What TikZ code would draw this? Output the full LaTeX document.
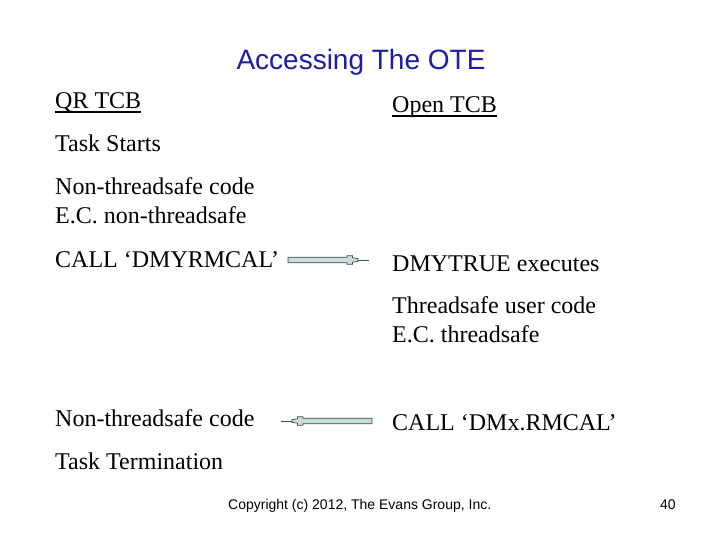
\documentclass[tikz,border=0pt]{standalone}
\usepackage{fontspec}
\setmainfont{Liberation Serif}
\newfontfamily\arialf{Liberation Sans}
\definecolor{titleblue}{HTML}{1C1CA8}
\definecolor{arrowfill}{HTML}{C8DCDC}
\definecolor{arrowline}{HTML}{4A4A4A}
\tikzset{
  body/.style={anchor=base west, inner sep=0pt, font=\fontsize{24}{29}\selectfont},
  ulinestyle/.style={line width=1.6pt},
  pics/fatarrow/.style={code={
    \filldraw[fill=arrowfill, draw=arrowline, line width=0.7pt]
      (0,-2.8) -- (#1,-2.8) -- (#1,-4.3) -- (#1+5.5,-4.3) -- (#1+5.5,-2.2) -- (#1+11,-1.4)
      -- (#1+11,1.4) -- (#1+5.5,2.2) -- (#1+5.5,4.3) -- (#1,4.3) -- (#1,2.8) -- (0,2.8) -- cycle;
    \draw[arrowline, line width=0.7pt] (#1+11,0) -- (#1+22,0);
  }}
}
\begin{document}
\begin{tikzpicture}[x=1pt,y=-1pt]
\useasboundingbox (0,0) rectangle (720,540);
\node[anchor=base, inner sep=0pt, font=\arialf\fontsize{28}{32}\selectfont, text=titleblue] (title) at (361,70) {Accessing The OTE};

\node[body] (qr) at (55,109) {QR TCB};
\node[body] (open) at (392,113) {Open TCB};
\draw[ulinestyle] ([yshift=-3pt]qr.base west) -- ([yshift=-3pt]qr.base east);
\draw[ulinestyle] ([yshift=-3pt]open.base west) -- ([yshift=-3pt]open.base east);

\node[body] (start) at (55,152) {Task Starts};
\node[body] (nts1) at (55,195) {Non-threadsafe code};
\node[body] (ec1) at (55,224) {E.C. non-threadsafe};
\node[body] (call1) at (55,267) {CALL ‘DMYRMCAL’};
\node[body] (dmy) at (392,271) {DMYTRUE executes};
\node[body] (ts) at (392,313) {Threadsafe user code};
\node[body] (ec2) at (392,342) {E.C. threadsafe};
\node[body] (nts2) at (55,426) {Non-threadsafe code};
\node[body] (call2) at (392,430) {CALL ‘DMx.RMCAL’};
\node[body] (term) at (55,469) {Task Termination};

\coordinate (a1) at (288,260);
\coordinate (a2) at (372,421);
\path (a1) pic {fatarrow=59};
\path (a2) pic[xscale=-1] {fatarrow=69};

\node[anchor=base west, inner sep=0pt, font=\arialf\fontsize{14}{16}\selectfont] (copy) at (228,509) {Copyright (c) 2012, The Evans Group, Inc.};
\node[anchor=base west, inner sep=0pt, font=\arialf\fontsize{14}{16}\selectfont] (page) at (660,509) {40};
\end{tikzpicture}
\end{document}
